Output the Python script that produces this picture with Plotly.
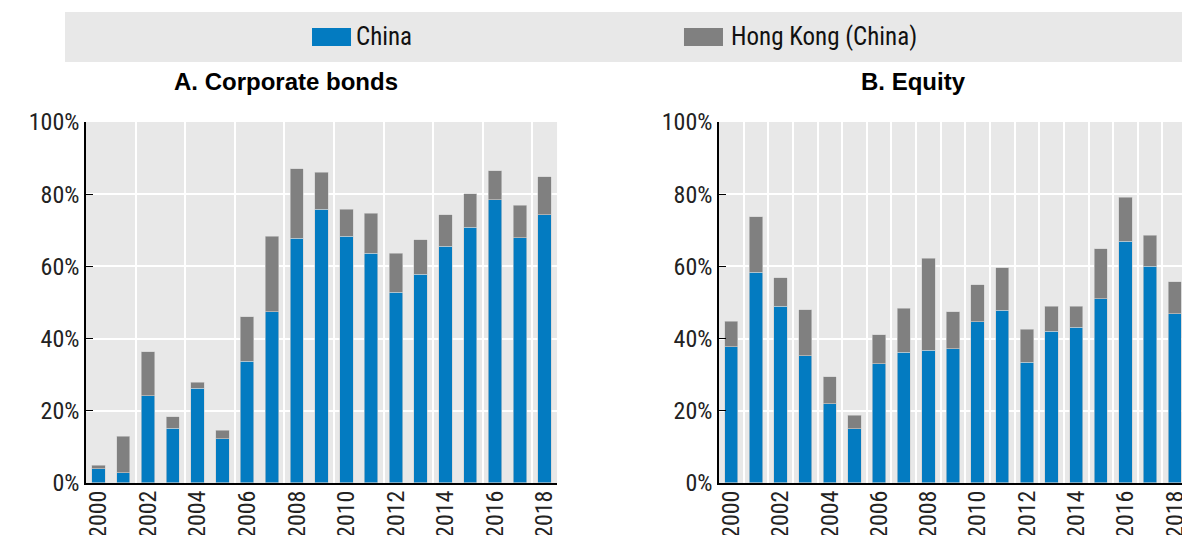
import plotly.graph_objects as go
from plotly.subplots import make_subplots

years = list(range(2000, 2019))

# A. Corporate bonds (share, %)
bonds_china = [3.9, 2.9, 24.1, 15.1, 26.3, 12.3, 33.7, 47.5, 67.8, 75.8,
               68.4, 63.6, 52.8, 57.8, 65.6, 70.9, 78.5, 67.9, 74.3]
bonds_total = [4.9, 13.0, 36.4, 18.3, 27.9, 14.6, 46.0, 68.4, 87.0, 86.1,
               75.8, 74.7, 63.6, 67.4, 74.3, 80.1, 86.5, 76.9, 84.9]

# B. Equity (share, %)
equity_china = [37.7, 58.4, 49.0, 35.2, 22.0, 15.0, 33.0, 36.2, 36.8, 37.2,
                44.6, 47.9, 33.5, 42.1, 43.1, 51.0, 66.9, 60.1, 46.9]
equity_total = [44.8, 73.8, 56.9, 48.0, 29.4, 18.75, 41.0, 48.4, 62.2, 47.4,
                54.9, 59.6, 42.6, 48.9, 48.9, 64.9, 79.1, 68.6, 55.8]

bonds_hk = [round(t - c, 2) for t, c in zip(bonds_total, bonds_china)]
equity_hk = [round(t - c, 2) for t, c in zip(equity_total, equity_china)]

y_ticks = [0, 20, 40, 60, 80, 100]
x_ticks = list(range(2000, 2019, 2))

BLUE = "#037BC1"
GREY = "#808080"
BG = "#E8E8E8"
FONT = "Liberation Sans Narrow, Arial Narrow, Roboto Condensed, Liberation Sans, sans-serif"
BOLD_FONT = "Liberation Sans, Arial, sans-serif"

fig = make_subplots(rows=1, cols=2)

for col, china, hk in [(1, bonds_china, bonds_hk), (2, equity_china, equity_hk)]:
    fig.add_trace(go.Bar(x=years, y=china, name="China", marker_color=BLUE,
                         marker_line=dict(color="#D0D0D0", width=0.6),
                         showlegend=False), row=1, col=col)
    fig.add_trace(go.Bar(x=years, y=hk, name="Hong Kong (China)", marker_color=GREY,
                         marker_line=dict(color="#D0D0D0", width=0.6),
                         showlegend=False), row=1, col=col)

# legend band drawn by hand so the swatches get the wide OECD look
legend_shapes = [
    dict(type="rect", xref="paper", yref="paper", x0=0.0482, x1=1.0,
         y0=0.8975, y1=0.9924, fillcolor=BG, line_width=0, layer="below"),
    dict(type="rect", xref="paper", yref="paper", x0=0.2572, x1=0.2902,
         y0=0.9279, y1=0.962, fillcolor=BLUE, line_width=0),
    dict(type="rect", xref="paper", yref="paper", x0=0.5719, x1=0.6049,
         y0=0.9279, y1=0.962, fillcolor=GREY, line_width=0),
]
legend_labels = [
    dict(text="China", x=0.2927, y=0.945, xanchor="left", yanchor="middle",
         xref="paper", yref="paper", showarrow=False,
         font=dict(family=FONT, size=25, color="#111111")),
    dict(text="Hong Kong (China)", x=0.61, y=0.945, xanchor="left", yanchor="middle",
         xref="paper", yref="paper", showarrow=False,
         font=dict(family=FONT, size=25, color="#111111")),
]
titles = [
    dict(text="<b>A. Corporate bonds</b>", x=0.2352, y=0.8596, xanchor="center", yanchor="middle",
         xref="paper", yref="paper", showarrow=False,
         font=dict(family=BOLD_FONT, size=24, color="#000000")),
    dict(text="<b>B. Equity</b>", x=0.7661, y=0.8596, xanchor="center", yanchor="middle",
         xref="paper", yref="paper", showarrow=False,
         font=dict(family=BOLD_FONT, size=24, color="#000000")),
]

fig.update_layout(
    barmode="stack",
    bargap=0.46,
    width=1182,
    height=527,
    margin=dict(l=0, r=0, t=0, b=0),
    paper_bgcolor="white",
    plot_bgcolor=BG,
    font=dict(family=FONT, size=24, color="#222222"),
    showlegend=False,
    shapes=legend_shapes,
    annotations=legend_labels + titles,
)

fig.update_xaxes(domain=[0.0660, 0.4645], row=1, col=1)
fig.update_xaxes(domain=[0.6015, 0.9975], row=1, col=2)
fig.update_xaxes(
    range=[1999.5, 2018.5], tickvals=x_ticks, ticktext=[str(v) for v in x_ticks],
    tickangle=-90, showgrid=False, zeroline=False, showline=True, linecolor="black",
    linewidth=2, ticks="", tickfont=dict(size=24), automargin=False,
    ticklabelstandoff=-4,
)
fig.update_xaxes(minor=dict(tick0=1999.5, dtick=2, showgrid=True, gridcolor="white", gridwidth=1.5),
                 row=1, col=1)
fig.update_xaxes(minor=dict(tick0=1999.5, dtick=1, showgrid=True, gridcolor="white", gridwidth=1.5),
                 row=1, col=2)
fig.update_yaxes(
    domain=[0.0987, 0.7837], range=[0, 100], tickvals=y_ticks,
    ticktext=[f"{v}%" for v in y_ticks], showgrid=True, gridcolor="white", gridwidth=1.5,
    zeroline=False, showline=True, linecolor="black", linewidth=1.5,
    ticks="inside", ticklen=7, tickcolor="black", tickfont=dict(size=24), automargin=False,
)

fig.write_html("out.html")
